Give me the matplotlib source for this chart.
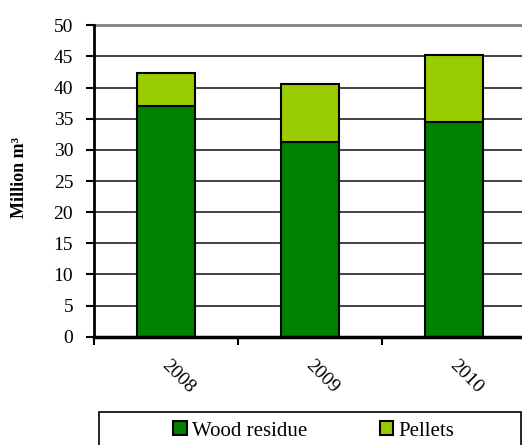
import matplotlib
matplotlib.use("Agg")
import matplotlib.pyplot as plt
from matplotlib.patches import Rectangle
import numpy as np

years = ["2008", "2009", "2010"]
wood_residue = [37.0, 31.2, 34.4]
pellets = [5.4, 9.4, 10.9]
y_ticks = [0, 5, 10, 15, 20, 25, 30, 35, 40, 45, 50]

plt.rcParams["font.family"] = ["Liberation Serif", "DejaVu Serif"]

W, H = 522, 445
fig = plt.figure(figsize=(W / 100, H / 100), dpi=100)
ax = fig.add_axes([94 / W, (H - 336.7) / H, 432 / W, (336.7 - 25.3) / H])

x = np.arange(len(years))
ax.bar(x, wood_residue, width=0.4, color="#008000", edgecolor="black",
       linewidth=1.5, zorder=3, label="Wood residue")
ax.bar(x, pellets, width=0.4, bottom=wood_residue, color="#99CC00",
       edgecolor="black", linewidth=1.5, zorder=3, label="Pellets")

ax.set_xlim(-0.5, 2.5)
ax.set_ylim(0, 50)
ax.set_yticks(y_ticks)
ax.set_yticklabels([str(v) for v in y_ticks], fontsize=14)

# horizontal gridlines; the top one is drawn lighter
for v in y_ticks[1:-1]:
    ax.axhline(v, color="#222222", linewidth=1.2, zorder=1)
ax.axhline(50, color="#808080", linewidth=2, zorder=1, clip_on=False)

# category ticks sit on the boundaries between years
ax.set_xticks([-0.5, 0.5, 1.5, 2.5])
ax.set_xticklabels([])
ax.tick_params(axis="x", direction="out", length=6, width=1.5, color="black")
ax.tick_params(axis="y", direction="out", length=6, width=1.5, color="black", pad=9)
for xi, lab in zip(x, years):
    ax.annotate(lab, xy=(xi, 0), xycoords=("data", "axes fraction"),
                xytext=(-1.5, -19), textcoords="offset points",
                rotation=-45, rotation_mode="anchor", ha="left", va="center",
                fontsize=14)

for side in ["top", "right"]:
    ax.spines[side].set_visible(False)
ax.spines["left"].set_linewidth(2)
ax.spines["bottom"].set_linewidth(2.5)
ax.spines["left"].set_zorder(4)
ax.spines["bottom"].set_zorder(4)

ax.set_ylabel("Million m³", fontsize=13, fontweight="bold", va="center")
ax.yaxis.set_label_coords(-74 / 432, 0.51)

# legend box along the bottom
fig.patches.append(Rectangle((99 / W, -0.05), (521 - 99) / W, (H - 412) / H + 0.05,
                             transform=fig.transFigure, facecolor="white",
                             edgecolor="black", linewidth=1.2))
handles, labels = ax.get_legend_handles_labels()
fig.legend(handles, labels, ncol=2, frameon=False, fontsize=15,
           loc="center left", bbox_to_anchor=(173 / W, (H - 431) / H),
           handlelength=0.65, handleheight=0.65, handletextpad=0.25,
           columnspacing=3.5, borderpad=0, borderaxespad=0)

fig.savefig("out.png", dpi=100)
